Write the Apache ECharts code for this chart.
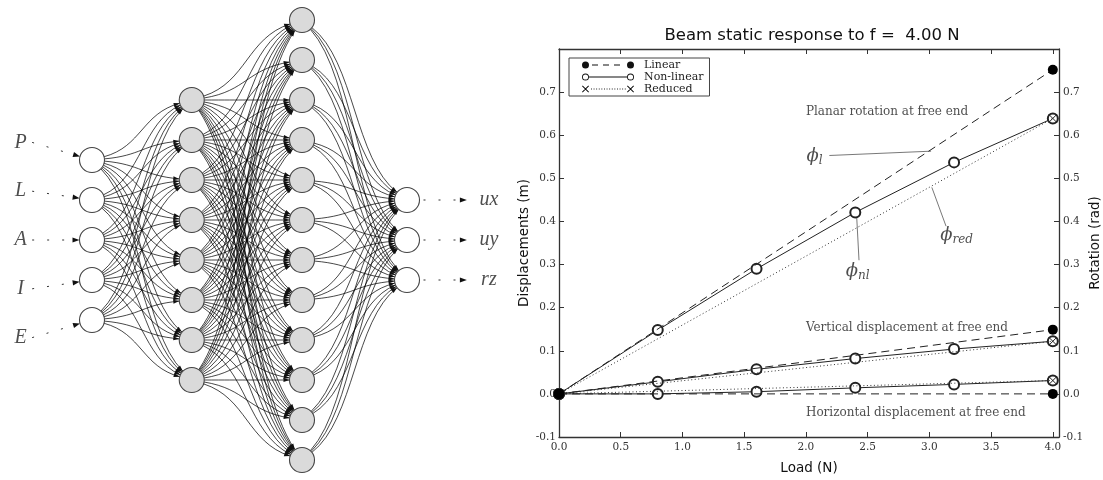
<!DOCTYPE html>
<html>
<head>
<meta charset="utf-8">
<script src="https://cdn.jsdelivr.net/npm/echarts@6/dist/echarts.min.js"></script>
<style>
html, body { margin: 0; padding: 0; background: #fff; }
#main { width: 1103px; height: 480px; }
</style>
</head>
<body>
<div id="main"></div>
<script>
// ---- beam response data ----
var loads = [0, 0.8, 1.6, 2.4, 3.2, 4.0];
var endLoads = [0, 4.0];
var rotLinear = [0, 0.752];
var rotNonLinear = [0, 0.148, 0.290, 0.421, 0.537, 0.639];
var rotReduced = [0, 0.639];
var vertLinear = [0, 0.149];
var vertNonLinear = [0, 0.028, 0.057, 0.082, 0.104, 0.122];
var vertReduced = [0, 0.122];
var horLinear = [0, 0];
var horNonLinear = [0, 0.000, 0.005, 0.014, 0.022, 0.031];
var horReduced = [0, 0.031];

// annotations
var noteTexts = ['Planar rotation at free end', 'Vertical displacement at free end', 'Horizontal displacement at free end'];
var noteX = [2.0, 2.0, 2.0];
var noteY = [0.655, 0.154, -0.045];
var phiSubs = ['l', 'nl', 'red'];
var phiX = [2.07, 2.42, 3.22];
var phiY = [0.551, 0.285, 0.368];
var leaderFrom = [[2.19, 0.553], [2.41, 0.418], [3.02, 0.479]];
var leaderTo = [[3.014, 0.563], [2.43, 0.31], [3.135, 0.389]];

// ---- network diagram ----
var inputNames = ['P', 'L', 'A', 'I', 'E'];
var outputNames = ['ux', 'uy', 'rz'];
var layerSizes = [5, 8, 12, 3];
var layerPos = [0, 0.95, 2, 3];

var myChart = echarts.init(document.getElementById('main'));

function rows(n) {
	var r = [];
	for (var i = 0; i < n; i++) r.push(i - (n - 1) / 2);
	return r;
}
function pairs(xs, ys) {
	return xs.map(function (x, i) { return [x, ys[i]]; });
}

// nodes, links
var nodes = [];
var links = [];
var layerRows = layerSizes.map(rows);
layerRows.forEach(function (rs, l) {
	var hidden = l == 1 || l == 2;
	rs.forEach(function (r) {
		nodes.push({ value: [layerPos[l], r], itemStyle: { color: hidden ? '#dadada' : '#fff' } });
	});
});
for (var l = 0; l < 3; l++) {
	layerRows[l].forEach(function (ra) {
		layerRows[l + 1].forEach(function (rb) {
			links.push([layerPos[l], ra, layerPos[l + 1], rb, 0]);
		});
	});
}
var nameLabels = [];
inputNames.forEach(function (n, i) {
	var r = layerRows[0][i] * 1.22;
	links.push([-0.57, r, layerPos[0], layerRows[0][i], 1]);
	nameLabels.push({ value: [-0.68, r], name: n });
});
outputNames.forEach(function (n, i) {
	var r = layerRows[3][i];
	links.push([layerPos[3], r, 3.57, r, 2]);
	nameLabels.push({ value: [3.78, r], name: n });
});

function arrowHead(tip, ux, uy, len, half) {
	var bx = tip[0] - ux * len, by = tip[1] - uy * len;
	return {
		type: 'polygon',
		shape: { points: [tip, [bx - uy * half, by + ux * half], [bx + uy * half, by - ux * half]] },
		style: { fill: '#111' }
	};
}

function renderLink(params, api) {
	var a = api.coord([api.value(0), api.value(1)]);
	var b = api.coord([api.value(2), api.value(3)]);
	var kind = api.value(4);
	var R = 12.5;
	var dx = b[0] - a[0], dy = b[1] - a[1];
	if (kind != 0) {
		var ra = kind == 2 ? R + 4 : 0;
		var rb = kind == 1 ? R : 0;
		var len = Math.sqrt(dx * dx + dy * dy);
		var ux = dx / len, uy = dy / len;
		var p = [a[0] + ux * ra, a[1] + uy * ra];
		var q = [b[0] - ux * rb, b[1] - uy * rb];
		return {
			type: 'group',
			children: [
				{ type: 'line', shape: { x1: p[0], y1: p[1], x2: q[0] - ux * 5, y2: q[1] - uy * 5 },
					style: { stroke: '#333', lineWidth: 1, lineDash: [2, 13] } },
				arrowHead(q, ux, uy, 7, 2.6)
			]
		};
	}
	var k = 0.45;
	var l1 = Math.sqrt(dx * dx + k * k * dy * dy);
	var vx = dx / l1, vy = k * dy / l1;
	var p1 = [a[0] + vx * R, a[1] + vy * R];
	var q1 = [b[0] - vx * R, b[1] - vy * R];
	var c = (q1[0] - p1[0]) * 0.5;
	var cp1 = [p1[0] + c, p1[1] + c * vy / vx];
	var cp2 = [q1[0] - c, q1[1] - c * vy / vx];
	return {
		type: 'group',
		children: [
			{ type: 'bezierCurve',
				shape: { x1: p1[0], y1: p1[1], cpx1: cp1[0], cpy1: cp1[1], cpx2: cp2[0], cpy2: cp2[1], x2: q1[0], y2: q1[1] },
				style: { fill: null, stroke: '#000', lineWidth: 0.9, opacity: 0.8 } },
			arrowHead(q1, vx, vy, 6, 2)
		]
	};
}

// legend samples: marker - line - marker, 52 x 7 box
function ring(cx) {
	return 'M' + (cx - 3.5) + ',3.5A3.5,3.5,0,1,0,' + (cx + 3.5) + ',3.5A3.5,3.5,0,1,0,' + (cx - 3.5) + ',3.5Z' +
		'M' + (cx - 2.6) + ',3.5A2.6,2.6,0,1,1,' + (cx + 2.6) + ',3.5A2.6,2.6,0,1,1,' + (cx - 2.6) + ',3.5Z';
}
function dot(cx) {
	return 'M' + (cx - 3.5) + ',3.5A3.5,3.5,0,1,0,' + (cx + 3.5) + ',3.5A3.5,3.5,0,1,0,' + (cx - 3.5) + ',3.5Z';
}
function cross(x0) {
	return 'M' + x0 + ',0.7L' + (x0 + 0.7) + ',0L' + (x0 + 7) + ',6.3L' + (x0 + 6.3) + ',7Z' +
		'M' + x0 + ',6.3L' + (x0 + 6.3) + ',0L' + (x0 + 7) + ',0.7L' + (x0 + 0.7) + ',7Z';
}
var iconLinear = 'path://' + dot(3.5) + dot(48.5) + 'M10,3h6v1h-6ZM21,3h6v1h-6ZM32,3h6v1h-6Z';
var iconNonLinear = 'path://' + ring(3.5) + ring(48.5) + 'M7,3h38v1h-38Z';
var iconReduced = 'path://' + cross(0) + cross(45);
for (var d = 9; d < 44; d += 2.6) iconReduced += 'M' + d.toFixed(1) + ',3h0.9v0.9h-0.9Z';

var serif = 'DejaVu Serif';
var sans = 'DejaVu Sans';
var ink = '#222';

function lineSeries(name, xs, ys, kind) {
	var s = {
		type: 'line', name: name, data: pairs(xs, ys),
		xAxisIndex: 0, yAxisIndex: 0, showAllSymbol: true, animation: false
	};
	if (kind == 'linear') {
		s.symbol = 'circle'; s.symbolSize = 10;
		s.lineStyle = { color: ink, width: 1, type: [8, 5] };
		s.itemStyle = { color: '#000' };
		s.z = 6;
	} else if (kind == 'nonlinear') {
		s.symbol = 'emptyCircle'; s.symbolSize = 10;
		s.lineStyle = { color: ink, width: 1 };
		s.itemStyle = { color: ink, borderWidth: 1 };
		s.z = 4;
	} else {
		s.symbol = 'path://M0,0L10,10M10,0L0,10'; s.symbolSize = 8;
		s.lineStyle = { color: '#333', width: 1, type: [1, 2.5] };
		s.itemStyle = { color: 'none', borderColor: ink, borderWidth: 1 };
		s.z = 5;
	}
	return s;
}

function tickFmt(v) {
	return v.toFixed(1);
}

var series = [
	lineSeries('Linear', endLoads, rotLinear, 'linear'),
	lineSeries('Non-linear', loads, rotNonLinear, 'nonlinear'),
	lineSeries('Reduced', endLoads, rotReduced, 'reduced'),
	lineSeries('Linear', endLoads, vertLinear, 'linear'),
	lineSeries('Non-linear', loads, vertNonLinear, 'nonlinear'),
	lineSeries('Reduced', endLoads, vertReduced, 'reduced'),
	lineSeries('Linear', endLoads, horLinear, 'linear'),
	lineSeries('Non-linear', loads, horNonLinear, 'nonlinear'),
	lineSeries('Reduced', endLoads, horReduced, 'reduced'),
	{
		type: 'scatter', xAxisIndex: 0, yAxisIndex: 0, symbolSize: 0, silent: true,
		data: noteTexts.map(function (t, i) { return { value: [noteX[i], noteY[i]], name: t }; }),
		label: { show: true, position: 'right', distance: 0, formatter: '{b}',
			fontFamily: serif, fontSize: 12, color: ink }
	},
	{
		type: 'scatter', xAxisIndex: 0, yAxisIndex: 0, symbolSize: 0, silent: true,
		data: phiSubs.map(function (t, i) { return { value: [phiX[i], phiY[i]], name: t }; }),
		label: { show: true, position: 'inside',
			formatter: function (p) { return '{p|\u03d5}{s|' + p.name + '}'; },
			rich: {
				p: { fontFamily: serif, fontStyle: 'italic', fontSize: 18, color: ink },
				s: { fontFamily: serif, fontStyle: 'italic', fontSize: 12, color: ink, verticalAlign: 'bottom', padding: [9, 0, 0, 0] }
			}
		}
	}
];
leaderFrom.forEach(function (f, i) {
	series.push({
		type: 'line', xAxisIndex: 0, yAxisIndex: 0, symbol: 'none', silent: true,
		data: [f, leaderTo[i]], lineStyle: { color: '#555', width: 0.8 }
	});
});
series.push({
	type: 'custom', xAxisIndex: 2, yAxisIndex: 2, renderItem: renderLink,
	encode: { x: [0, 2], y: [1, 3] }, data: links, z: 1, silent: true, clip: false
});
series.push({
	type: 'scatter', xAxisIndex: 2, yAxisIndex: 2, symbolSize: 25, data: nodes, z: 5, silent: true,
	itemStyle: { borderColor: '#444', borderWidth: 1.1, opacity: 1 }
});
series.push({
	type: 'scatter', xAxisIndex: 2, yAxisIndex: 2, symbolSize: 0, data: nameLabels, z: 5, silent: true,
	label: { show: true, position: 'inside', formatter: '{b}',
		fontFamily: 'Liberation Serif', fontStyle: 'italic', fontSize: 20, color: '#222' }
});

var axisLine = { show: true, onZero: false, lineStyle: { color: '#333', width: 1.3 } };
var axisTick = { show: true, inside: true, length: 5, lineStyle: { color: '#333', width: 1 } };

option = {
	animation: false,
	backgroundColor: '#fff',
	title: {
		text: 'Beam static response to f =  4.00 N',
		left: 807, top: 22, textAlign: 'center',
		textStyle: { fontFamily: sans, fontSize: 16.5, fontWeight: 'normal', color: '#111' }
	},
	legend: {
		data: [
			{ name: 'Linear', icon: iconLinear },
			{ name: 'Non-linear', icon: iconNonLinear },
			{ name: 'Reduced', icon: iconReduced }
		],
		orient: 'vertical', left: 569, top: 58,
		padding: [1, 6, 1, 13], itemGap: 0, itemWidth: 52, itemHeight: 7,
		itemStyle: { color: '#111', borderWidth: 0 },
		borderColor: '#444', borderWidth: 1, borderRadius: 0, backgroundColor: '#fff',
		textStyle: { fontFamily: serif, fontSize: 11, color: ink, lineHeight: 12, padding: [0, 0, 0, 5] }
	},
	grid: [
		{ left: 559, top: 49, width: 501, height: 391 },
		{ left: 8, top: 0, width: 483, height: 480 }
	],
	xAxis: [
		{
			gridIndex: 0, type: 'value', min: 0, max: 4.05, interval: 0.5,
			axisLine: axisLine, axisTick: axisTick, splitLine: { show: false },
			axisLabel: { margin: 5, fontFamily: serif, fontSize: 10.5, color: '#333',
				formatter: function (v) { return v > 4.01 ? '' : tickFmt(v); } },
			name: 'Load (N)', nameLocation: 'middle', nameGap: 24,
			nameTextStyle: { fontFamily: sans, fontSize: 13.5, color: '#111' }
		},
		{
			gridIndex: 0, type: 'value', position: 'top', min: 0, max: 4.05, interval: 0.5,
			axisLine: axisLine, axisTick: axisTick, splitLine: { show: false }, axisLabel: { show: false }
		},
		{ gridIndex: 1, type: 'value', min: -0.8, max: 3.8, show: false }
	],
	yAxis: [
		{
			gridIndex: 0, type: 'value', position: 'left', min: -0.1, max: 0.8, interval: 0.1,
			axisLine: axisLine, axisTick: axisTick, splitLine: { show: false },
			axisLabel: { margin: 3, fontFamily: serif, fontSize: 10.5, color: '#333',
				formatter: function (v) { return v > 0.75 ? '' : tickFmt(v); } },
			name: 'Displacements (m)', nameLocation: 'middle', nameGap: 27,
			nameTextStyle: { fontFamily: sans, fontSize: 13.5, color: '#111' }
		},
		{
			gridIndex: 0, type: 'value', position: 'right', min: -0.1, max: 0.8, interval: 0.1,
			axisLine: axisLine, axisTick: axisTick, splitLine: { show: false },
			axisLabel: { margin: 4, fontFamily: serif, fontSize: 10.5, color: '#333',
				formatter: function (v) { return v > 0.75 ? '' : tickFmt(v); } },
			name: 'Rotation (rad)', nameLocation: 'middle', nameGap: 29,
			nameTextStyle: { fontFamily: sans, fontSize: 13.5, color: '#111' }
		},
		{ gridIndex: 1, type: 'value', min: -6, max: 6, inverse: true, show: false }
	],
	series: series
};
myChart.setOption(option);
</script>
</body>
</html>
